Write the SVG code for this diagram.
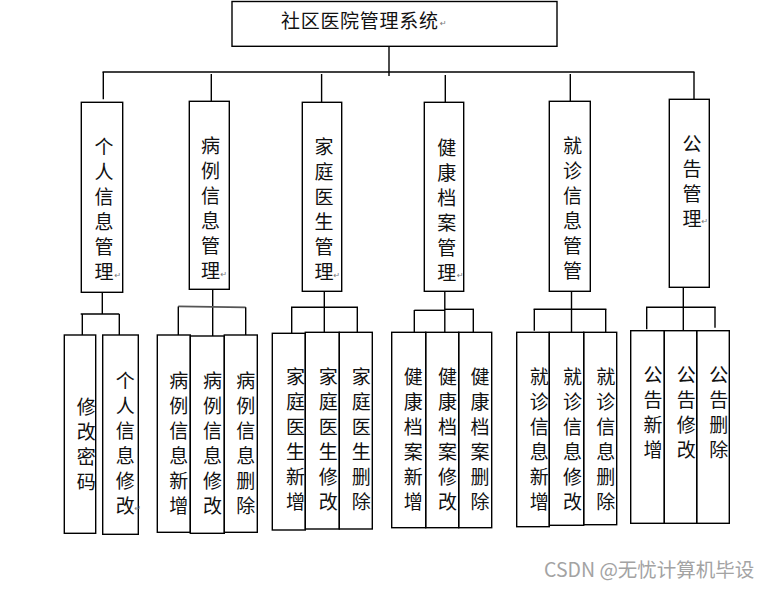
<svg xmlns="http://www.w3.org/2000/svg" width="772" height="589" viewBox="0 0 772 589">
<style>
.b{fill:none;stroke:#000;stroke-width:1.4}
.c line{stroke:#000;stroke-width:1.4}
.t{font-family:"Noto Sans CJK SC","Noto Sans",sans-serif;font-size:19px;fill:#111;text-anchor:middle}
.ttl{font-family:"Noto Sans CJK SC","Noto Sans",sans-serif;font-size:19px;fill:#111;letter-spacing:0.7px}
.r{font-family:"DejaVu Sans",sans-serif;font-size:8px;fill:#777}
.wm{font-family:"Noto Sans CJK SC","Noto Sans",sans-serif;font-size:19.5px;fill:#a3a3a3}
</style>
<rect width="772" height="589" fill="#fff"/>
<g id="connectors" class="c">
<line x1="389" y1="46" x2="389" y2="76"/>
<line x1="102.5" y1="72" x2="694.5" y2="72"/>
<line x1="103.3" y1="72" x2="103.3" y2="99.3"/>
<line x1="211.3" y1="74" x2="211.3" y2="101.3"/>
<line x1="321.6" y1="74" x2="321.6" y2="102.3"/>
<line x1="445.3" y1="75" x2="445.3" y2="102.3"/>
<line x1="570.3" y1="74" x2="570.3" y2="101.3"/>
<line x1="694" y1="72" x2="694" y2="99.3"/>
<line x1="102.3" y1="292.3" x2="102.3" y2="314"/>
<line x1="80.7" y1="314" x2="119.3" y2="314"/>
<line x1="82.3" y1="314" x2="82.3" y2="335"/>
<line x1="119.3" y1="314" x2="119.3" y2="335"/>
<line x1="212.7" y1="289.3" x2="212.7" y2="336"/>
<line x1="178.3" y1="306.3" x2="245.7" y2="307.3" style="stroke:#555;stroke-width:1.7"/>
<line x1="178.3" y1="306.5" x2="178.3" y2="335"/>
<line x1="245.7" y1="307.2" x2="245.7" y2="335"/>
<line x1="324.3" y1="291.3" x2="324.3" y2="332.3"/>
<line x1="291" y1="307.3" x2="358" y2="307.3"/>
<line x1="291.7" y1="307.3" x2="291.7" y2="333.3"/>
<line x1="357.3" y1="307.3" x2="357.3" y2="332.3"/>
<line x1="444.8" y1="291.3" x2="444.8" y2="332.3"/>
<line x1="414.3" y1="310.3" x2="445" y2="310.3"/>
<line x1="445" y1="309.3" x2="474" y2="309.3"/>
<line x1="414.3" y1="310" x2="414.3" y2="332.3"/>
<line x1="473.3" y1="309.3" x2="473.3" y2="332.3"/>
<line x1="571.5" y1="291.3" x2="571.5" y2="332.3"/>
<line x1="533.6" y1="309.3" x2="606.4" y2="309.3"/>
<line x1="534.3" y1="309.3" x2="534.3" y2="330.7"/>
<line x1="605.7" y1="309.3" x2="605.7" y2="332.3"/>
<line x1="683.3" y1="287.3" x2="683.3" y2="330.7"/>
<line x1="646" y1="307.3" x2="715.7" y2="307.3"/>
<line x1="646.7" y1="307.3" x2="646.7" y2="329.3"/>
<line x1="715" y1="307.3" x2="715" y2="327.7"/>
</g>
<g id="root">
<rect class="b" x="232" y="1.5" width="325" height="44.8"/>
<text class="ttl" x="281" y="27.7">社区医院管理系统</text>
<text class="r" x="440" y="26">↵</text>
</g>
<g id="n1">
<rect class="b" x="81.3" y="102.3" width="41.4" height="190"/>
<text class="t" x="104" y="154"><tspan x="104">个</tspan><tspan x="104" dy="25">人</tspan><tspan x="104" dy="25">信</tspan><tspan x="104" dy="25">息</tspan><tspan x="104" dy="25">管</tspan><tspan x="104" dy="25">理</tspan></text>
<text class="r" x="114.5" y="278">↵</text>
</g>
<g id="n2">
<rect class="b" x="189.3" y="101.3" width="40" height="188"/>
<text class="t" x="210.5" y="152.7"><tspan x="210.5">病</tspan><tspan x="210.5" dy="25">例</tspan><tspan x="210.5" dy="25">信</tspan><tspan x="210.5" dy="25">息</tspan><tspan x="210.5" dy="25">管</tspan><tspan x="210.5" dy="25">理</tspan></text>
<text class="r" x="220.5" y="277">↵</text>
</g>
<g id="n3">
<rect class="b" x="302.3" y="102.3" width="39.4" height="189"/>
<text class="t" x="324" y="153.9"><tspan x="324">家</tspan><tspan x="324" dy="25">庭</tspan><tspan x="324" dy="25">医</tspan><tspan x="324" dy="25">生</tspan><tspan x="324" dy="25">管</tspan><tspan x="324" dy="25">理</tspan></text>
<text class="r" x="333.5" y="278">↵</text>
</g>
<g id="n4">
<rect class="b" x="424.3" y="102.3" width="39.4" height="189"/>
<text class="t" x="446.8" y="154.7"><tspan x="446.8">健</tspan><tspan x="446.8" dy="25">康</tspan><tspan x="446.8" dy="25">档</tspan><tspan x="446.8" dy="25">案</tspan><tspan x="446.8" dy="25">管</tspan><tspan x="446.8" dy="25">理</tspan></text>
<text class="r" x="457" y="278">↵</text>
</g>
<g id="n5">
<rect class="b" x="549.3" y="101.3" width="41" height="190"/>
<text class="t" x="572.5" y="153.2"><tspan x="572.5">就</tspan><tspan x="572.5" dy="25">诊</tspan><tspan x="572.5" dy="25">信</tspan><tspan x="572.5" dy="25">息</tspan><tspan x="572.5" dy="25">管</tspan><tspan x="572.5" dy="25">管</tspan></text>
</g>
<g id="n6">
<rect class="b" x="669.3" y="99.3" width="40" height="188"/>
<text class="t" x="692" y="151.4"><tspan x="692">公</tspan><tspan x="692" dy="25">告</tspan><tspan x="692" dy="25">管</tspan><tspan x="692" dy="25">理</tspan></text>
<text class="r" x="701.5" y="224">↵</text>
</g>
<g id="n1a">
<rect class="b" x="64.3" y="335" width="31.4" height="198.3"/>
<text class="t" x="86.3" y="413.9"><tspan x="86.3">修</tspan><tspan x="86.3" dy="25">改</tspan><tspan x="86.3" dy="25">密</tspan><tspan x="86.3" dy="25">码</tspan></text>
</g>
<g id="n1b">
<rect class="b" x="102.7" y="335" width="35.6" height="199.3"/>
<text class="t" x="125.2" y="388"><tspan x="125.2">个</tspan><tspan x="125.2" dy="25">人</tspan><tspan x="125.2" dy="25">信</tspan><tspan x="125.2" dy="25">息</tspan><tspan x="125.2" dy="25">修</tspan><tspan x="125.2" dy="25">改</tspan></text>
<text class="r" x="134.5" y="511">↵</text>
</g>
<g id="n2a">
<rect class="b" x="157.3" y="335" width="33" height="197.3"/>
<text class="t" x="178.8" y="387.7"><tspan x="178.8">病</tspan><tspan x="178.8" dy="25">例</tspan><tspan x="178.8" dy="25">信</tspan><tspan x="178.8" dy="25">息</tspan><tspan x="178.8" dy="25">新</tspan><tspan x="178.8" dy="25">增</tspan></text>
</g>
<g id="n2b">
<rect class="b" x="190.3" y="336" width="34" height="197.3"/>
<text class="t" x="212.5" y="387.7"><tspan x="212.5">病</tspan><tspan x="212.5" dy="25">例</tspan><tspan x="212.5" dy="25">信</tspan><tspan x="212.5" dy="25">息</tspan><tspan x="212.5" dy="25">修</tspan><tspan x="212.5" dy="25">改</tspan></text>
</g>
<g id="n2c">
<rect class="b" x="224.3" y="335" width="33" height="197.3"/>
<text class="t" x="245.8" y="387.7"><tspan x="245.8">病</tspan><tspan x="245.8" dy="25">例</tspan><tspan x="245.8" dy="25">信</tspan><tspan x="245.8" dy="25">息</tspan><tspan x="245.8" dy="25">删</tspan><tspan x="245.8" dy="25">除</tspan></text>
</g>
<g id="n3a">
<rect class="b" x="272.3" y="333.3" width="33" height="196.7"/>
<text class="t" x="295.5" y="384.4"><tspan x="295.5">家</tspan><tspan x="295.5" dy="25">庭</tspan><tspan x="295.5" dy="25">医</tspan><tspan x="295.5" dy="25">生</tspan><tspan x="295.5" dy="25">新</tspan><tspan x="295.5" dy="25">增</tspan></text>
</g>
<g id="n3b">
<rect class="b" x="305.3" y="332.3" width="34" height="196.7"/>
<text class="t" x="328.3" y="384.4"><tspan x="328.3">家</tspan><tspan x="328.3" dy="25">庭</tspan><tspan x="328.3" dy="25">医</tspan><tspan x="328.3" dy="25">生</tspan><tspan x="328.3" dy="25">修</tspan><tspan x="328.3" dy="25">改</tspan></text>
</g>
<g id="n3c">
<rect class="b" x="339.3" y="332.3" width="33" height="196.7"/>
<text class="t" x="361.2" y="384.4"><tspan x="361.2">家</tspan><tspan x="361.2" dy="25">庭</tspan><tspan x="361.2" dy="25">医</tspan><tspan x="361.2" dy="25">生</tspan><tspan x="361.2" dy="25">删</tspan><tspan x="361.2" dy="25">除</tspan></text>
</g>
<g id="n4a">
<rect class="b" x="391.7" y="332.3" width="34" height="195.4"/>
<text class="t" x="413.3" y="384.4"><tspan x="413.3">健</tspan><tspan x="413.3" dy="25">康</tspan><tspan x="413.3" dy="25">档</tspan><tspan x="413.3" dy="25">案</tspan><tspan x="413.3" dy="25">新</tspan><tspan x="413.3" dy="25">增</tspan></text>
</g>
<g id="n4b">
<rect class="b" x="425.7" y="332.3" width="33" height="195.4"/>
<text class="t" x="447.5" y="384.4"><tspan x="447.5">健</tspan><tspan x="447.5" dy="25">康</tspan><tspan x="447.5" dy="25">档</tspan><tspan x="447.5" dy="25">案</tspan><tspan x="447.5" dy="25">修</tspan><tspan x="447.5" dy="25">改</tspan></text>
</g>
<g id="n4c">
<rect class="b" x="458.7" y="332.3" width="33" height="195.4"/>
<text class="t" x="480" y="384.4"><tspan x="480">健</tspan><tspan x="480" dy="25">康</tspan><tspan x="480" dy="25">档</tspan><tspan x="480" dy="25">案</tspan><tspan x="480" dy="25">删</tspan><tspan x="480" dy="25">除</tspan></text>
</g>
<g id="n5a">
<rect class="b" x="516.7" y="332.3" width="32.6" height="194.4"/>
<text class="t" x="539.2" y="384.4"><tspan x="539.2">就</tspan><tspan x="539.2" dy="25">诊</tspan><tspan x="539.2" dy="25">信</tspan><tspan x="539.2" dy="25">息</tspan><tspan x="539.2" dy="25">新</tspan><tspan x="539.2" dy="25">增</tspan></text>
</g>
<g id="n5b">
<rect class="b" x="549.3" y="332.3" width="34.4" height="193"/>
<text class="t" x="572.5" y="384.4"><tspan x="572.5">就</tspan><tspan x="572.5" dy="25">诊</tspan><tspan x="572.5" dy="25">信</tspan><tspan x="572.5" dy="25">息</tspan><tspan x="572.5" dy="25">修</tspan><tspan x="572.5" dy="25">改</tspan></text>
</g>
<g id="n5c">
<rect class="b" x="583.7" y="332.3" width="33" height="192.4"/>
<text class="t" x="605.8" y="384.4"><tspan x="605.8">就</tspan><tspan x="605.8" dy="25">诊</tspan><tspan x="605.8" dy="25">信</tspan><tspan x="605.8" dy="25">息</tspan><tspan x="605.8" dy="25">删</tspan><tspan x="605.8" dy="25">除</tspan></text>
</g>
<g id="n6a">
<rect class="b" x="630.7" y="330.7" width="33.6" height="192.6"/>
<text class="t" x="653" y="382.2"><tspan x="653">公</tspan><tspan x="653" dy="25">告</tspan><tspan x="653" dy="25">新</tspan><tspan x="653" dy="25">增</tspan></text>
</g>
<g id="n6b">
<rect class="b" x="664.3" y="330.7" width="32.4" height="192.6"/>
<text class="t" x="686.3" y="382.2"><tspan x="686.3">公</tspan><tspan x="686.3" dy="25">告</tspan><tspan x="686.3" dy="25">修</tspan><tspan x="686.3" dy="25">改</tspan></text>
</g>
<g id="n6c">
<rect class="b" x="696.7" y="330.7" width="32.6" height="192.6"/>
<text class="t" x="718.8" y="382.2"><tspan x="718.8">公</tspan><tspan x="718.8" dy="25">告</tspan><tspan x="718.8" dy="25">删</tspan><tspan x="718.8" dy="25">除</tspan></text>
</g>
<text class="wm" x="544" y="577">CSDN @无忧计算机毕设</text>
</svg>
